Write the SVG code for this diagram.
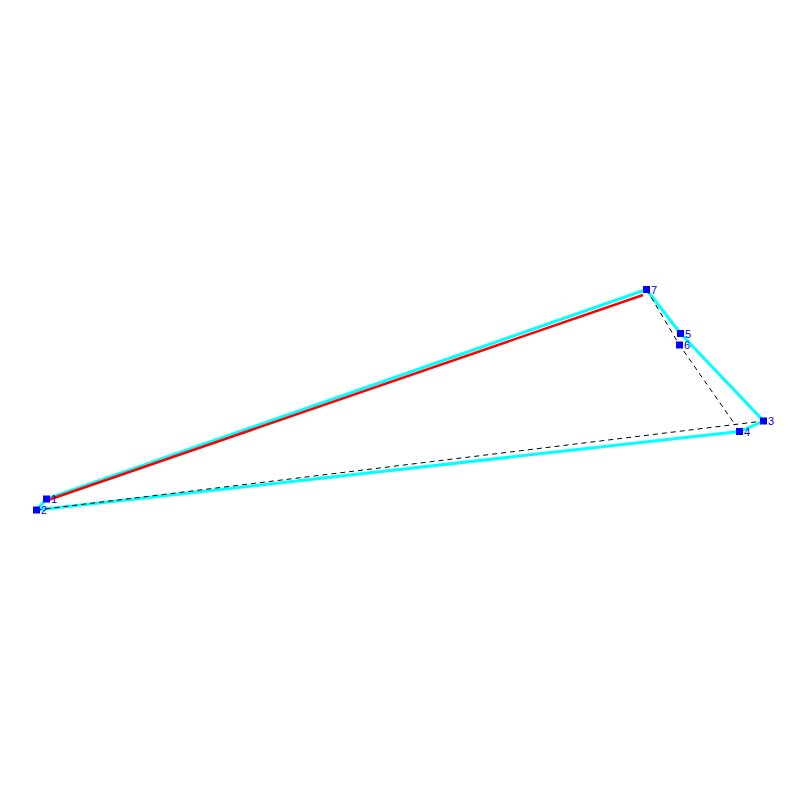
<svg xmlns="http://www.w3.org/2000/svg" width="800" height="800" viewBox="0 0 800 800">
<style>
.cy{fill:none;stroke:#00ffff;stroke-width:3;stroke-linejoin:round}
.rd{fill:none;stroke:#ff0000;stroke-width:2.5}
.ds{fill:none;stroke:#000;stroke-width:1;stroke-dasharray:5,4}
.pt{fill:#0000ff}
.lb{font-family:"Liberation Sans",Arial,sans-serif;font-size:11px;fill:#0000ff}
</style>
<rect width="800" height="800" fill="#fff"/>
<g id="connectors">
<polyline class="cy" points="46.5,499 646.5,289.5 680.5,333.5 763.5,421 739.5,431.5 36.5,510 46.5,499"/>
<line class="rd" x1="48" y1="500" x2="643" y2="295"/>
<path class="ds" d="M36.5,510 L763.5,421 M646.5,289.5 L679.5,345 L735,424.5"/>
</g>
<g id="n1"><rect class="pt" x="43" y="495.5" width="7" height="7"/><text class="lb" x="51" y="503">1</text></g>
<g id="n2"><rect class="pt" x="33" y="506.5" width="7" height="7"/><text class="lb" x="41" y="514">2</text></g>
<g id="n3"><rect class="pt" x="760" y="417.5" width="7" height="7"/><text class="lb" x="768" y="425">3</text></g>
<g id="n4"><rect class="pt" x="736" y="428" width="7" height="7"/><text class="lb" x="744" y="435.5">4</text></g>
<g id="n5"><rect class="pt" x="677" y="330" width="7" height="7"/><text class="lb" x="685" y="337.5">5</text></g>
<g id="n6"><rect class="pt" x="676" y="341.5" width="7" height="7"/><text class="lb" x="684" y="349">6</text></g>
<g id="n7"><rect class="pt" x="643" y="286" width="7" height="7"/><text class="lb" x="651" y="293.5">7</text></g>
</svg>
